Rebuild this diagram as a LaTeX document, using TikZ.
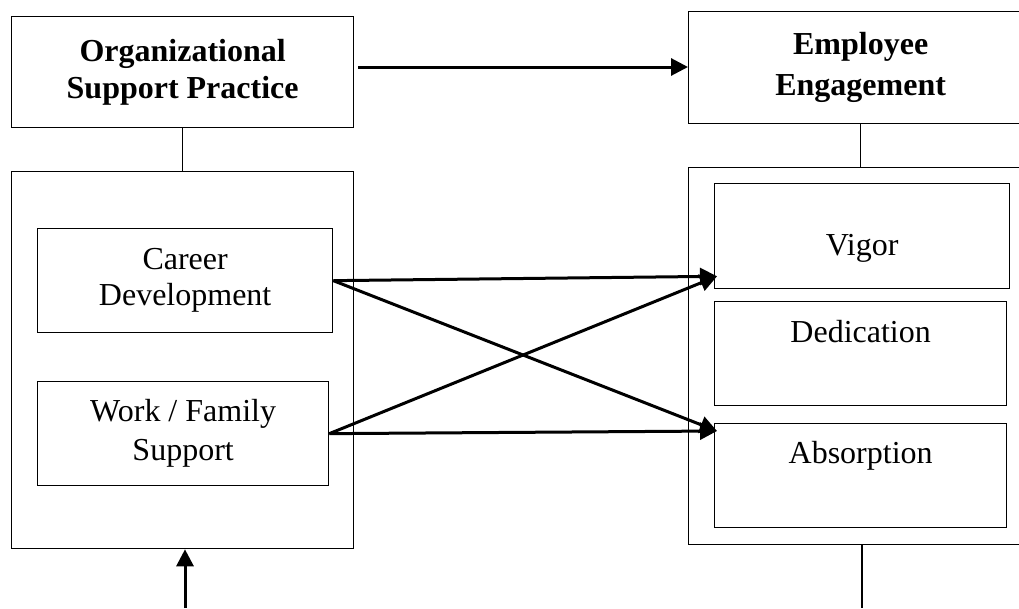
\documentclass[tikz,border=0pt]{standalone}
\usepackage{fontspec}
\setmainfont{Liberation Serif}
\usetikzlibrary{arrows.meta,positioning}
\tikzstyle{box} = [draw, line width=1.3pt, anchor=north west, inner sep=0pt, align=center, font=\fontsize{32pt}{37pt}\selectfont]
\tikzstyle{word} = [inner sep=0pt, anchor=base, font=\fontsize{32pt}{37pt}\selectfont]
\tikzstyle{arrow} = [line width=3pt, -{Triangle[length=17pt,width=17pt]}]

\begin{document}
\begin{tikzpicture}[x=1pt,y=-1pt]
\useasboundingbox (0,0) rectangle (1019,608);
\clip (0,0) rectangle (1019,608);

\node[box, minimum width=342pt, minimum height=111pt] (org) at (11,16) {\bfseries Organizational\\\bfseries Support Practice};
\node[box, minimum width=344pt, minimum height=112pt, font=\bfseries\fontsize{32pt}{41pt}\selectfont] (emp) at (688,11) {Employee\\Engagement};

\node[box, minimum width=342pt, minimum height=377pt] (left) at (11,171) {};
\node[box, minimum width=295pt, minimum height=104pt, font=\fontsize{32pt}{36pt}\selectfont] (career) at (37,228) {Career\\Development};
\node[box, minimum width=291pt, minimum height=104pt, font=\fontsize{32pt}{39pt}\selectfont] (work) at (37,381) {Work / Family\\Support};

\node[box, minimum width=344pt, minimum height=377pt] (right) at (688,167) {};
\node[box, minimum width=295pt, minimum height=105pt] (vigor) at (714,183) {};
\node[box, minimum width=292pt, minimum height=104pt] (ded) at (714,301) {};
\node[box, minimum width=292pt, minimum height=104pt] (abs) at (714,423) {};
\node[word] (vigortxt) at ([yshift=-72pt]vigor.north) {Vigor};
\node[word] (dedtxt) at ([yshift=-41pt]ded.north) {Dedication};
\node[word] (abstxt) at ([yshift=-40pt]abs.north) {Absorption};

\draw[line width=1.3pt] (org.south) -- (left.north);
\draw[line width=1.3pt] (emp.south) -- (right.north);

\coordinate (start) at (358,67);
\draw[arrow] (start) -- (start -| emp.west);

\draw[arrow] (career.east) -- ([shift={(3pt,13pt)}]vigor.south west);
\draw[arrow] (career.east) -- ([shift={(3pt,-8pt)}]abs.north west);
\draw[arrow] (work.east) -- ([shift={(3pt,13pt)}]vigor.south west);
\draw[arrow] (work.east) -- ([shift={(3pt,-8pt)}]abs.north west);

\coordinate (inflow) at (185,608);
\draw[arrow] (inflow) -- (inflow |- left.south);
\coordinate (outflow) at (862,608);
\draw[line width=1.3pt] (outflow |- right.south) -- (outflow);
\end{tikzpicture}
\end{document}
